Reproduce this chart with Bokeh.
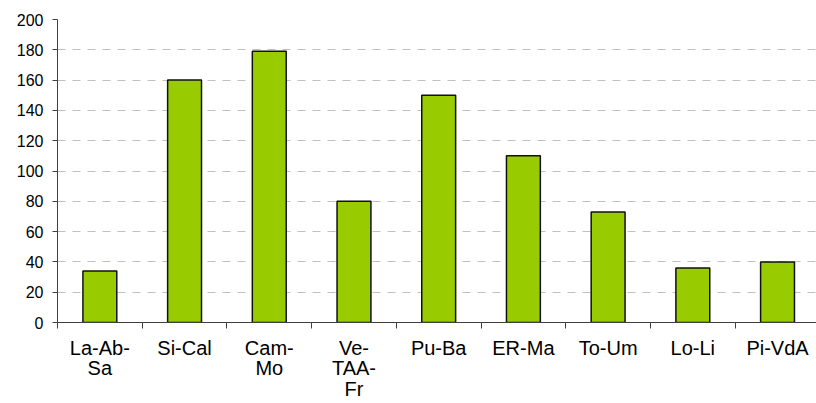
from bokeh.plotting import figure
from bokeh.models import Range1d, FixedTicker, LinearAxis, Grid
from bokeh.embed import file_html
from bokeh.resources import INLINE

# Data
categories = ["La-Ab-Sa", "Si-Cal", "Cam-Mo", "Ve-TAA-Fr", "Pu-Ba", "ER-Ma", "To-Um", "Lo-Li", "Pi-VdA"]
tick_labels = ["La-Ab-\nSa", "Si-Cal", "Cam-\nMo", "Ve-\nTAA-\nFr", "Pu-Ba", "ER-Ma", "To-Um", "Lo-Li", "Pi-VdA"]
values = [34, 160, 179, 80, 150, 110, 73, 36, 40]
y_ticks = [0, 20, 40, 60, 80, 100, 120, 140, 160, 180, 200]

FONT = "Liberation Sans"

n = len(categories)
centers = [i + 0.5 for i in range(n)]
bounds = list(range(n + 1))

p = figure(width=816, height=403, output_backend="svg", toolbar_location=None,
           x_range=Range1d(0, 8.96), y_range=Range1d(0, 200),
           x_axis_type=None, y_axis_type=None,
           min_border_left=57, min_border_right=0, min_border_top=19, min_border_bottom=80)
p.outline_line_color = None
p.background_fill_color = "white"
p.border_fill_color = "white"

# Grid
grid = Grid(dimension=1, ticker=FixedTicker(ticks=y_ticks[1:]))
grid.grid_line_color = "#c0c0c0"
grid.grid_line_dash = "8 7"
grid.grid_line_width = 1
p.add_layout(grid)

p.vbar(x=centers, top=values, width=0.4, bottom=0,
       fill_color="#99cc00", line_color="#111111", line_width=1.5)

# Y axis
yaxis = LinearAxis(ticker=FixedTicker(ticks=y_ticks, minor_ticks=[]))
yaxis.axis_line_color = "#404040"
yaxis.major_tick_line_color = "#404040"
yaxis.major_tick_out = 5
yaxis.major_tick_in = 0
yaxis.minor_tick_line_color = None
yaxis.major_label_standoff = 9
yaxis.major_label_text_font = FONT
yaxis.major_label_text_font_size = "16px"
yaxis.major_label_text_color = "black"
p.add_layout(yaxis, "left")

# X axis: labels at centers, ticks at boundaries
xaxis = LinearAxis(ticker=FixedTicker(ticks=centers, minor_ticks=bounds))
xaxis.major_label_overrides = {c: lab for c, lab in zip(centers, tick_labels)}
xaxis.axis_line_color = "#404040"
xaxis.major_tick_line_color = None
xaxis.major_tick_out = 0
xaxis.major_tick_in = 0
xaxis.minor_tick_line_color = "#404040"
xaxis.minor_tick_out = 6
xaxis.minor_tick_in = 0
xaxis.major_label_standoff = 8
xaxis.major_label_text_font = FONT
xaxis.major_label_text_font_size = "20px"
xaxis.major_label_text_line_height = 0.95
xaxis.major_label_text_color = "black"
p.add_layout(xaxis, "below")

open("out.html", "w").write(file_html(p, INLINE))
